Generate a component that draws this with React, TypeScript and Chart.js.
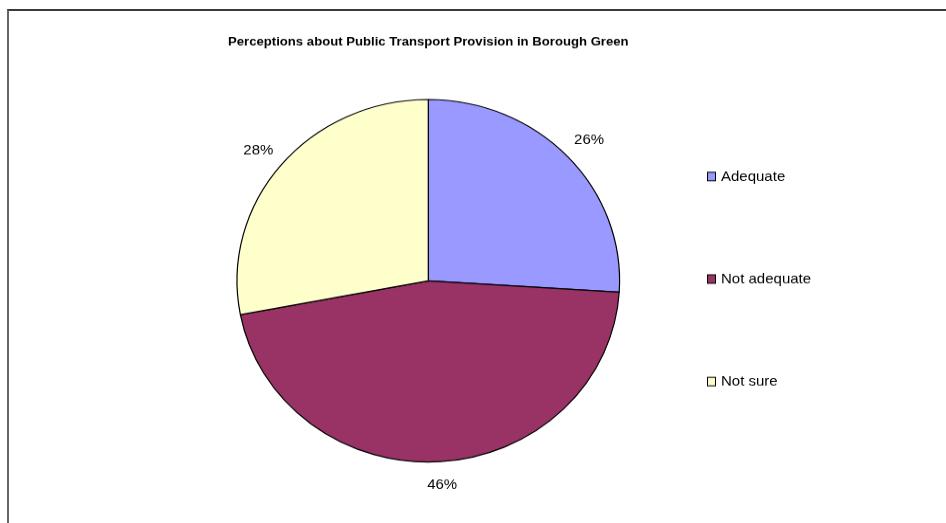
import React, { useEffect, useRef } from "react";
import { Chart, registerables } from "chart.js";

Chart.register(...registerables);

const TITLE = "Perceptions about Public Transport Provision in Borough Green";
const CATEGORIES = ["Adequate", "Not adequate", "Not sure"];
const VALUES = [26, 46, 28];
const COLORS = ["#9999FF", "#993366", "#FFFFCC"];

const FONT = "'Liberation Sans', Arial, sans-serif";
const CANVAS_W = 946;
const CANVAS_H = 552; // internal height, displayed at 523px (slight vertical squash)

const labelPlugin = {
  id: "pctLabels",
  afterDatasetsDraw(chart: any) {
    const ctx = chart.ctx;
    const meta = chart.getDatasetMeta(0);
    const data = chart.data.datasets[0].data as number[];
    const total = data.reduce((a, b) => a + b, 0);
    ctx.save();
    ctx.font = `15px ${FONT}`;
    ctx.fillStyle = "#000";
    ctx.textAlign = "center";
    ctx.textBaseline = "middle";
    meta.data.forEach((arc: any, i: number) => {
      const { x, y, startAngle, endAngle, outerRadius } = arc.getProps(
        ["x", "y", "startAngle", "endAngle", "outerRadius"],
        true
      );
      const mid = (startAngle + endAngle) / 2;
      const d = outerRadius + 25;
      const pct = Math.round((data[i] / total) * 100);
      ctx.fillText(`${pct}%`, x + Math.cos(mid) * d * 1.02, y + Math.sin(mid) * d);
    });
    ctx.restore();
  },
};

const legendPlugin = {
  id: "sideLegend",
  afterDraw(chart: any) {
    const ctx = chart.ctx;
    const labels = chart.data.labels as string[];
    const colors = chart.data.datasets[0].backgroundColor as string[];
    const x0 = 707;
    const y0 = 186.3;
    const step = 108.2;
    ctx.save();
    ctx.font = `15px ${FONT}`;
    ctx.textAlign = "left";
    ctx.textBaseline = "middle";
    labels.forEach((lab, i) => {
      const cy = y0 + i * step;
      ctx.fillStyle = colors[i];
      ctx.fillRect(x0, cy - 4.5, 8, 9);
      ctx.strokeStyle = "#000";
      ctx.lineWidth = 1;
      ctx.strokeRect(x0 + 0.5, cy - 4.5, 8, 9);
      ctx.fillStyle = "#000";
      ctx.fillText(lab, x0 + 14, cy + 0.5);
    });
    ctx.restore();
  },
};

export default function App() {
  const ref = useRef<HTMLCanvasElement | null>(null);

  useEffect(() => {
    document.body.style.overflow = "hidden";
    const canvas = ref.current;
    if (!canvas) return;
    const chart = new Chart(canvas, {
      type: "pie",
      data: {
        labels: CATEGORIES,
        datasets: [
          {
            data: VALUES,
            backgroundColor: COLORS,
            borderColor: "#000000",
            borderWidth: 1.2,
            radius: 191.3,
          } as any,
        ],
      },
      options: {
        responsive: false,
        animation: false,
        devicePixelRatio: 1,
        layout: {
          padding: { left: 228, right: 317.4, top: 0, bottom: 11.8 },
        },
        plugins: {
          legend: { display: false },
          tooltip: { enabled: false },
          title: {
            display: true,
            text: TITLE,
            color: "#000",
            font: { family: FONT, size: 13.5, weight: "bold" },
            padding: { top: 36.2, bottom: 0 },
          },
        },
      },
      plugins: [labelPlugin, legendPlugin],
    });
    return () => chart.destroy();
  }, []);

  return (
    <div
      style={{
        position: "fixed",
        left: 0,
        top: 0,
        width: 946,
        height: 523,
        overflow: "hidden",
        background: "#fff",
      }}
    >
      <div
        style={{
          position: "absolute",
          left: 7,
          top: 9,
          width: 960,
          height: 540,
          borderLeft: "2px solid #666",
          borderTop: "2px solid #3a3a3a",
          boxSizing: "border-box",
        }}
      />
      <canvas
        ref={ref}
        width={CANVAS_W}
        height={CANVAS_H}
        style={{
          position: "absolute",
          left: 0,
          top: 0,
          width: "946px",
          height: "523px",
        }}
      />
    </div>
  );
}
